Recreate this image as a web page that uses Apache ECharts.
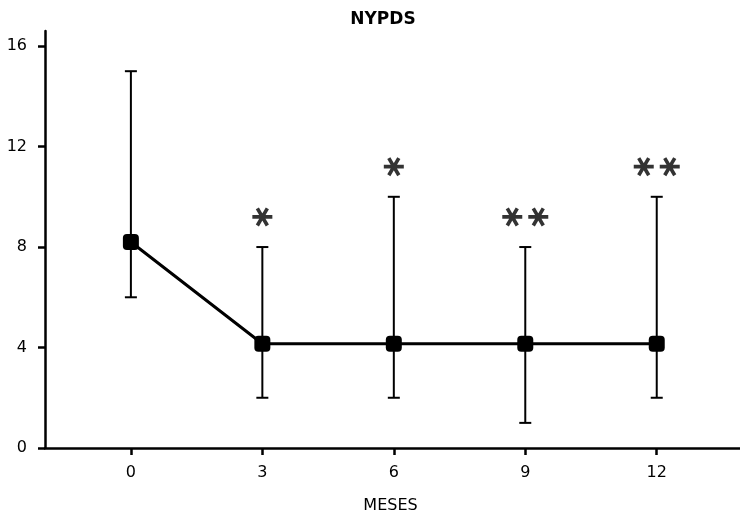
<!DOCTYPE html>
<html>
<head>
<meta charset="utf-8">
<script src="https://cdn.jsdelivr.net/npm/echarts@6/dist/echarts.min.js"></script>
<style>
  html, body { margin: 0; padding: 0; background: #fff; }
  #chart { width: 740px; height: 518px; }
</style>
</head>
<body>
<div id="chart"></div>
<script>
// NYPDS over follow-up months: mean with range bars
const months = [0, 3, 6, 9, 12];
const means  = [8.2, 4.15, 4.15, 4.15, 4.15];
const highs  = [15, 8, 10, 8, 10];
const lows   = [6, 2, 2, 1, 2];
// significance marks: number of asterisks and their height
const starCount  = [0, 1, 1, 2, 2];
const starLevel  = [0, 9.2, 11.2, 9.2, 11.2];
const yTicks = [0, 4, 8, 12, 16];

// six-arm asterisk built from three rotated bars (one horizontal, two diagonals)
function asteriskPath() {
  const L = 10, w = 1.8, parts = [];
  [0, 60, 120].forEach(function (deg) {
    const a = deg * Math.PI / 180;
    const c = Math.cos(a), s = Math.sin(a);
    const px = -s * w, py = c * w;
    const pts = [
      [ L * c + px,  L * s + py],
      [ L * c - px,  L * s - py],
      [-L * c - px, -L * s - py],
      [-L * c + px, -L * s + py]
    ].map(function (p) { return (p[0] + 10).toFixed(2) + ' ' + (p[1] + 10).toFixed(2); });
    parts.push('M' + pts.join(' L') + ' Z');
  });
  return 'path://' + parts.join(' ');
}

const starData = [];
months.forEach(function (m, i) {
  const n = starCount[i];
  for (let k = 0; k < n; k++) {
    starData.push({
      value: [m, starLevel[i]],
      symbolOffset: [(k - (n - 1) / 2) * 26, 0]
    });
  }
});

const chart = echarts.init(document.getElementById('chart'), null, { renderer: 'canvas' });
const font = 'DejaVu Sans';

chart.setOption({
  animation: false,
  backgroundColor: '#fff',
  title: {
    text: 'NYPDS',
    left: 378, top: 6, textAlign: 'center',
    textStyle: { fontFamily: font, fontWeight: 'bold', fontSize: 17, color: '#000' }
  },
  grid: { left: 45, right: 0, top: 31, bottom: 70, containLabel: false, outerBoundsMode: 'none' },
  xAxis: {
    type: 'value', min: -1.96, max: 13.9,
    name: 'MESES', nameLocation: 'middle', nameGap: 50,
    nameTextStyle: { fontFamily: font, fontSize: 16, color: '#000', padding: [0, 0, 0, -4] },
    axisLine: { onZero: false, lineStyle: { color: '#000', width: 2.5 } },
    axisTick: { show: true, length: 7, customValues: months, lineStyle: { color: '#000', width: 2.5 } },
    axisLabel: { customValues: months, fontFamily: font, fontSize: 16, color: '#000', margin: 17 },
    splitLine: { show: false }
  },
  yAxis: {
    type: 'value', min: 0, max: 16.6,
    axisLine: { show: true, onZero: false, lineStyle: { color: '#000', width: 2.5 } },
    axisTick: { show: true, length: 7, customValues: yTicks, lineStyle: { color: '#000', width: 2.5 } },
    axisLabel: { customValues: yTicks, fontFamily: font, fontSize: 16, color: '#000', margin: 18 },
    splitLine: { show: false }
  },
  series: [
    {
      type: 'custom',
      name: 'range',
      data: months.map(function (m, i) { return [m, lows[i], highs[i]]; }),
      renderItem: function (params, api) {
        const x = api.value(0);
        const lo = api.coord([x, api.value(1)]);
        const hi = api.coord([x, api.value(2)]);
        const cap = 6;
        const st = { stroke: '#000', lineWidth: 2 };
        return {
          type: 'group',
          children: [
            { type: 'line', shape: { x1: hi[0], y1: hi[1], x2: lo[0], y2: lo[1] }, style: st },
            { type: 'line', shape: { x1: hi[0] - cap, y1: hi[1], x2: hi[0] + cap, y2: hi[1] }, style: st },
            { type: 'line', shape: { x1: lo[0] - cap, y1: lo[1], x2: lo[0] + cap, y2: lo[1] }, style: st }
          ]
        };
      },
      z: 2
    },
    {
      type: 'line',
      name: 'mean',
      data: months.map(function (m, i) { return [m, means[i]]; }),
      symbol: 'roundRect',
      symbolSize: 16,
      lineStyle: { color: '#000', width: 3 },
      itemStyle: { color: '#000' },
      z: 3
    },
    {
      type: 'scatter',
      name: 'signif',
      data: starData,
      symbol: asteriskPath(),
      symbolSize: [20, 19],
      itemStyle: { color: '#000' },
      z: 4
    }
  ]
});
</script>
</body>
</html>
